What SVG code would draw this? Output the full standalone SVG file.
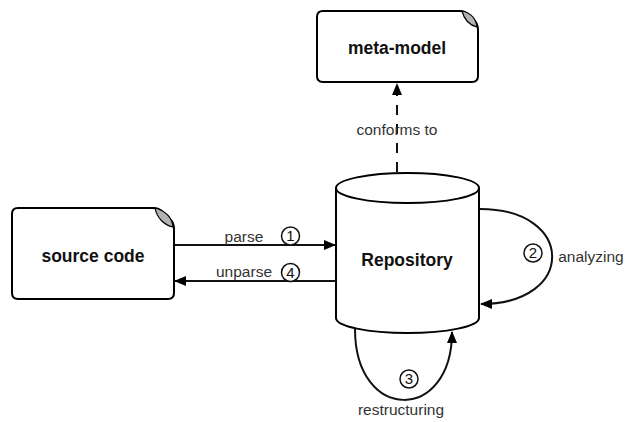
<svg xmlns="http://www.w3.org/2000/svg" width="627" height="422" viewBox="0 0 627 422">
<style>
.node{fill:#fff;stroke:#000;stroke-width:2}
.leaf{fill:#b3b3b3;stroke:#000;stroke-width:1.2}
.bold{font-family:"Liberation Sans",Arial,sans-serif;font-weight:bold;font-size:17.5px;fill:#111;text-anchor:middle}
.lbl{font-family:"Liberation Sans",Arial,sans-serif;font-size:15.5px;fill:#333;text-anchor:middle}
.num{font-family:"Liberation Sans",Arial,sans-serif;font-size:15px;fill:#111;text-anchor:middle}
.circ{fill:#fff;stroke:#111;stroke-width:1.5}
.edge{fill:none;stroke:#111;stroke-width:2}
</style>
<defs>
<marker id="arr" viewBox="0 0 12 10" refX="11" refY="5" markerWidth="12" markerHeight="10" markerUnits="userSpaceOnUse" orient="auto">
<path d="M0,0 L12,5 L0,10 Z" fill="#000"/>
</marker>
</defs>
<g id="meta-model">
<path class="node" d="M323,11 L460,11 Q465,11 469,15 L474,20 Q478,24 478,30 L478,76 Q478,82 472,82 L323,82 Q317,82 317,76 L317,17 Q317,11 323,11 Z"/>
<path class="leaf" d="M462,11 C471,13 476,19 477,27 C469,25 464,19 462,11 Z"/>
<text class="bold" x="397" y="54">meta-model</text>
</g>
<g id="source-code">
<path class="node" d="M18,208 L153,208 Q159,208 163,212 L170,219 Q174,223 174,229 L174,293 Q174,299 168,299 L18,299 Q12,299 12,293 L12,214 Q12,208 18,208 Z"/>
<path class="leaf" d="M155,208 C166,211 172,218 173,227 C164,225 157,218 155,208 Z"/>
<text class="bold" x="93" y="262">source code</text>
</g>
<g id="repository">
<path class="node" d="M336,188 L336,318 A71.5,15 0 0 0 479,318 L479,188 A71.5,15 0 0 0 336,188 Z"/>
<path class="node" d="M336,188 A71.5,15 0 0 0 479,188"/>
<text class="bold" x="407" y="266">Repository</text>
</g>
<g id="connectors">
<path class="edge" d="M397,172 L397,84" stroke-dasharray="10 9" marker-end="url(#arr)"/>
<text class="lbl" x="397" y="135">conforms to</text>
<path class="edge" d="M175,245 L335,245" marker-end="url(#arr)"/>
<text class="lbl" x="244" y="242">parse</text>
<circle class="circ" cx="290.5" cy="236" r="9"/>
<text class="num" x="290.5" y="241.3">1</text>
<path class="edge" d="M335,281 L175,281" marker-end="url(#arr)"/>
<text class="lbl" x="244" y="277">unparse</text>
<circle class="circ" cx="290.5" cy="272.5" r="9"/>
<text class="num" x="290.5" y="277.8">4</text>
<path class="edge" d="M480,209 C576,209 576,304 481,304" marker-end="url(#arr)"/>
<circle class="circ" cx="533" cy="253" r="9"/>
<text class="num" x="533" y="258.3">2</text>
<text class="lbl" x="591" y="262">analyzing</text>
<path class="edge" d="M355,329 C355,423 452,423 452,332" marker-end="url(#arr)"/>
<circle class="circ" cx="409" cy="379" r="9"/>
<text class="num" x="409" y="384.3">3</text>
<text class="lbl" x="401" y="415">restructuring</text>
</g>
</svg>
